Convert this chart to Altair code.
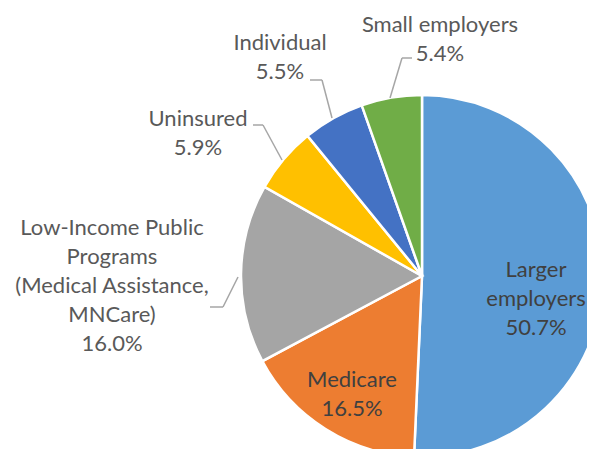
import altair as alt
import pandas as pd

# ---- data ----
categories = ["Larger employers", "Medicare",
              "Low-Income Public Programs (Medical Assistance, MNCare)",
              "Uninsured", "Individual", "Small employers"]
shares = [50.7, 16.5, 16.0, 5.9, 5.5, 5.4]
colors = ["#5B9BD5", "#ED7D31", "#A5A5A5", "#FFC000", "#4472C4", "#70AD47"]
label_texts = ["Larger\nemployers\n50.7%", "Medicare\n16.5%",
               "Low-Income Public\nPrograms\n(Medical Assistance,\nMNCare)\n16.0%",
               "Uninsured\n5.9%", "Individual\n5.5%", "Small employers\n5.4%"]

pie_df = pd.DataFrame({"category": categories, "share": shares,
                       "order": list(range(len(categories)))})

# ---- layout (pixel placement of annotations) ----
CX, CY, R = 414, 268, 181
label_pos = [(528, 269, "#404040"), (344, 379, "#404040"), (104, 227, "#595959"),
             (190, 118, "#595959"), (272, 42, "#595959"), (432, 24, "#595959")]
label_df = pd.DataFrame({"text": label_texts,
                         "x": [p[0] for p in label_pos],
                         "y": [p[1] for p in label_pos],
                         "c": [p[2] for p in label_pos]})
leaders = [
    (404, 50, 394, 50), (394, 50, 382, 90),
    (302, 72, 314, 72), (314, 72, 324, 110),
    (245, 117, 255, 117), (255, 117, 274, 152),
    (202, 299, 215, 299), (215, 299, 230, 269),
]
lead_df = pd.DataFrame(leaders, columns=["x", "y", "x2", "y2"])

pie = alt.Chart(pie_df).mark_arc(outerRadius=R, stroke="white", strokeWidth=2.5).encode(
    theta=alt.Theta("share:Q", stack=True),
    color=alt.Color("category:N", scale=alt.Scale(domain=categories, range=colors), legend=None),
    order=alt.Order("order:Q"),
    x=alt.value(CX),
    y=alt.value(CY),
)

labels = alt.Chart(label_df).mark_text(
    font="Lato", fontSize=22, lineBreak="\n", lineHeight=29,
    align="center", baseline="alphabetic",
).encode(
    x=alt.X("x:Q", scale=None),
    y=alt.Y("y:Q", scale=None),
    text="text:N",
    color=alt.Color("c:N", scale=None),
)

lines = alt.Chart(lead_df).mark_rule(color="#A6A6A6", strokeWidth=1.5).encode(
    x=alt.X("x:Q", scale=None), y=alt.Y("y:Q", scale=None),
    x2="x2:Q", y2="y2:Q",
)

chart = alt.layer(pie, lines, labels).properties(
    width=579, height=441, padding=0,
    autosize=alt.AutoSizeParams(type="none"),
    background="white",
).configure_view(stroke=None)

chart.save("out.html", embed_options={"renderer": "svg", "actions": False})
